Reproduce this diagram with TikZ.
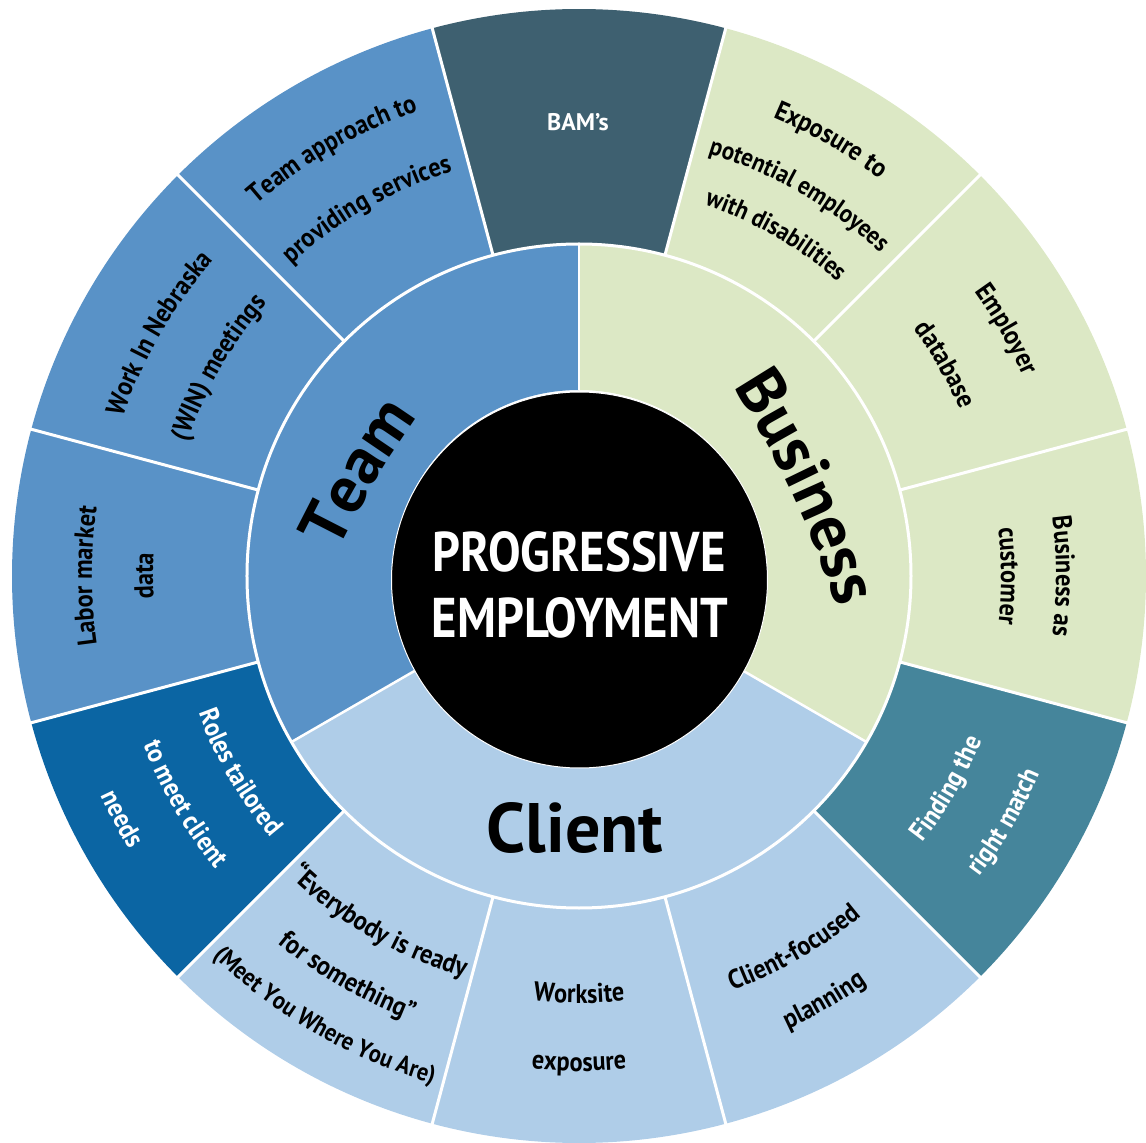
\documentclass[tikz,border=0pt]{standalone}
\usepackage{fontspec}
\setmainfont{PT Sans}
\newfontfamily\lblfont{PT Sans}[FakeStretch=0.9]
\usetikzlibrary{decorations.text}
\definecolor{teamblue}{HTML}{5992C7}
\definecolor{rolesblue}{HTML}{0B65A3}
\definecolor{bamslate}{HTML}{3E6070}
\definecolor{bizgreen}{HTML}{DCE8C5}
\definecolor{matchteal}{HTML}{45859B}
\definecolor{clientblue}{HTML}{AFCDE8}
% annular sector: colour, start angle, end angle, inner r, outer r
\newcommand\annseg[5]{\fill[#1] ({#2}:{#4}) arc[start angle={#2}, end angle={#3}, radius={#4}] -- ({#3}:{#5}) arc[start angle={#3}, end angle={#2}, radius={#5}] -- cycle;}
% clockwise text (tops outward): colour, centre angle, baseline radius, size, text
\newcommand\cwtext[5]{\path[decorate, decoration={text along path, text align=center, text color=#1, text={|\lblfont\fontsize{#4}{#4}\selectfont\bfseries|#5}}] ({#2+60}:{#3}) arc[start angle={#2+60}, end angle={#2-60}, radius={#3}];}
% counter-clockwise text (tops inward)
\newcommand\ccwtext[5]{\path[decorate, decoration={text along path, text align=center, text color=#1, text={|\lblfont\fontsize{#4}{#4}\selectfont\bfseries|#5}}] ({#2-60}:{#3}) arc[start angle={#2-60}, end angle={#2+60}, radius={#3}];}
% gently curved big label: curve centre, centre angle, radius, text
\newcommand\bigcurve[4]{\path[decorate, decoration={text along path, text align=center, text color=black, text={|\fontsize{66}{66}\selectfont\bfseries|#4}}] (#1) ++({#2+25}:{#3}) arc[start angle={#2+25}, end angle={#2-25}, radius={#3}];}
\begin{document}
\begin{tikzpicture}[x=1pt,y=1pt,
  sep/.style={white, line width=3pt},
  centrelbl/.style={text=white, font=\fontsize{56}{56}\selectfont\bfseries, inner sep=0pt, xscale=0.87},
  ringlbl/.style={text=black, font=\fontsize{70}{70}\selectfont\bfseries, inner sep=0pt}]
\useasboundingbox (-579,-567) rectangle (567,576);
% outer ring
\annseg{bamslate}{75}{105}{332}{567}
\annseg{bizgreen}{45}{75}{332}{567}
\annseg{bizgreen}{15}{45}{332}{567}
\annseg{bizgreen}{-15}{15}{332}{567}
\annseg{matchteal}{-45}{-15}{332}{567}
\annseg{clientblue}{-75}{-45}{332}{567}
\annseg{clientblue}{-105}{-75}{332}{567}
\annseg{clientblue}{-135}{-105}{332}{567}
\annseg{rolesblue}{-165}{-135}{332}{567}
\annseg{teamblue}{165}{195}{332}{567}
\annseg{teamblue}{135}{165}{332}{567}
\annseg{teamblue}{105}{135}{332}{567}
% middle ring
\annseg{teamblue}{90}{210}{186}{332}
\annseg{bizgreen}{-30}{90}{186}{332}
\annseg{clientblue}{210}{330}{186}{332}
% separators
\foreach \a in {15,45,...,345} \draw[sep] (\a:332) -- (\a:569);
\foreach \a in {90,210,330} \draw[sep, line width=2.5pt] (\a:186) -- (\a:332);
\draw[sep] (0,0) circle[radius=332];
% centre
\fill[black] (0.5,-4) circle[radius=188];
\draw[white, line width=1pt] (0.5,-4) circle[radius=188];
\node[centrelbl] (pe1) at (0,24) {PROGRESSIVE};
\node[centrelbl] (pe2) at (1,-42) {EMPLOYMENT};
% middle ring labels
\coordinate (teamc) at (147:-677);
\coordinate (bizc) at (26.6:-672);
\bigcurve{teamc}{149.1}{900}{Team}
\bigcurve{bizc}{25.2}{900}{Business}
\node[ringlbl] (client) at (-4,-252) {Client};
% outer labels
\node[text=white, font=\fontsize{24}{24}\selectfont\bfseries, inner sep=0pt] (bams) at (-1,454) {BAM’s};
\cwtext{black}{120}{492}{27}{Team approach to}
\cwtext{black}{120}{424}{27}{providing services}
\cwtext{black}{150}{483}{27}{Work In Nebraska}
\cwtext{black}{150}{414}{27}{(WIN) meetings}
\cwtext{black}{180}{487}{27}{Labor market}
\cwtext{black}{180}{426}{27}{data}
\cwtext{black}{60}{498}{27}{Exposure to}
\cwtext{black}{60}{442}{25.5}{potential employees}
\cwtext{black}{60}{392}{25.5}{with disabilities}
\cwtext{black}{30}{487}{27}{Employer}
\cwtext{black}{30}{416}{27}{database}
\cwtext{black}{0}{477}{27}{Business as}
\cwtext{black}{0}{422}{27}{customer}
\ccwtext{white}{210}{404}{27}{Roles tailored}
\ccwtext{white}{210}{467}{27}{to meet client}
\ccwtext{white}{208}{526}{27}{needs}
\ccwtext{black}{240}{417}{27}{“Everybody is ready}
\ccwtext{black}{240}{475}{27}{for something”}
\ccwtext{black}{240}{528}{25}{(Meet You Where You Are)}
\ccwtext{black}{270}{427}{27}{Worksite}
\ccwtext{black}{270}{495}{27}{exposure}
\ccwtext{black}{300}{442}{27}{Client-focused}
\ccwtext{black}{300}{499}{27}{planning}
\ccwtext{white}{330}{435}{27}{Finding the}
\ccwtext{white}{330}{501}{27}{right match}
\end{tikzpicture}
\end{document}
